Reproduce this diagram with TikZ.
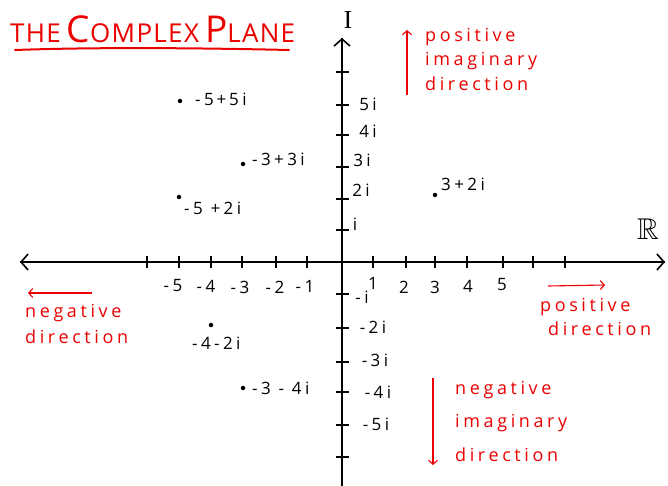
\documentclass[tikz,border=0pt]{standalone}
\usepackage{amssymb}
\usepackage{fontspec}
\setmainfont{Open Sans}
\newfontfamily\serifI{Liberation Serif}
\usetikzlibrary{arrows.meta}
\definecolor{pen}{RGB}{235,0,0}
\tikzset{
  axis/.style={line width=2pt, black},
  axtip/.style={-{Straight Barb[length=7pt,width=16pt,line width=1.6pt]}},
  tick/.style={line width=1.6pt, black},
  lbl/.style={font=\fontsize{17}{19}\selectfont\addfontfeature{LetterSpace=20}, inner sep=0pt, black},
  redtxt/.style={font=\fontsize{18}{20}\selectfont\addfontfeature{LetterSpace=20}, inner sep=0pt, text=pen, anchor=west},
  redarrow/.style={pen, line width=1.1pt, -{Straight Barb[length=4pt,width=9pt]}},
  pt/.style={circle, fill=black, inner sep=0pt, minimum size=4.5pt},
}
\begin{document}
\begin{tikzpicture}[x=1pt,y=-1pt]
\useasboundingbox (0,0) rectangle (668,486);
% title
\node[inner sep=0pt, text=pen, anchor=west] (title) at (10,29)
  {\fontsize{26}{28}\selectfont\addfontfeature{LetterSpace=5}THE\hspace{6pt}{\fontsize{37}{38}\selectfont C}OMPLEX\hspace{6pt}{\fontsize{37}{38}\selectfont P}LANE};
\coordinate (ul1) at (15,50);
\coordinate (ul2) at (289,50);
\draw[pen, line width=2pt, line cap=round] (ul1) .. controls (100,47) and (200,48) .. (ul2);
% axes
\coordinate (xl) at (20,262);
\coordinate (xr) at (665,262);
\coordinate (yt) at (342,38);
\coordinate (yb) at (342,486);
\draw[axis, axtip] (xr) -- (xl);
\draw[axis, axtip] (xl) -- (xr);
\draw[axis, axtip] (yb) -- (yt);
\draw[axis] (yt) -- (yb);
% horizontal ticks
\foreach \x in {147,179,211,242,276,307,373,406,435,467,503,533,565}
  \draw[tick] (\x,256) -- (\x,268);
% vertical ticks
\foreach \y in {72,105,135,167,199,230,294,328,362,392,425,457}
  \draw[tick] (336,\y) -- (349,\y);
% axis labels
\node[inner sep=0pt, font=\fontsize{26}{28}\selectfont\serifI] (ilab) at (348,20) {I};
\node[inner sep=0pt, font=\fontsize{30}{32}\selectfont] (rlab) at (648,229) {$\mathbb{R}$};
% real numbers
\node[lbl] (n5) at (173,286) {-5};
\node[lbl] (n4) at (206,286) {-4};
\node[lbl] (n3) at (240,287) {-3};
\node[lbl] (n2) at (275,287) {-2};
\node[lbl] (n1) at (305,286) {-1};
\node[lbl] (p1) at (373,283) {1};
\node[lbl] (p2) at (404,287) {2};
\node[lbl] (p3) at (435,287) {3};
\node[lbl] (p4) at (468,286) {4};
\node[lbl] (p5) at (502,285) {5};
% imaginary numbers
\node[lbl] (i5) at (368,104) {5i};
\node[lbl] (i4) at (368,131) {4i};
\node[lbl] (i3) at (362,160) {3i};
\node[lbl] (i2) at (361,190) {2i};
\node[lbl] (i1) at (355,224) {i};
\node[lbl] (m1) at (362,297) {-i};
\node[lbl] (m2) at (373,327) {-2i};
\node[lbl] (m3) at (375,360) {-3i};
\node[lbl] (m4) at (378,392) {-4i};
\node[lbl] (m5) at (376,424) {-5i};
% points
\node[pt] (a) at (180,101) {};
\node[lbl, anchor=west] (al) at (195,99) {-5\,+\,5i};
\node[pt] (b) at (243,164) {};
\node[lbl, anchor=west] (bl) at (252,159) {-3+3i};
\node[pt] (c) at (179,197) {};
\node[lbl, anchor=west] (cl) at (184,208) {-5 +2i};
\node[pt] (d) at (435,195) {};
\node[lbl, anchor=west] (dl) at (441,184) {3+2i};
\node[pt] (e) at (211,325) {};
\node[lbl, anchor=west] (el) at (192,343) {-4-2i};
\node[pt] (f) at (243,388) {};
\node[lbl, anchor=west] (fl) at (252,388) {-3 - 4i};
% red annotations
\coordinate (pia) at (407,95);
\coordinate (pib) at (407,30);
\draw[redarrow] (pia) -- (pib);
\node[redtxt] (pi1) at (425,37) {positive};
\node[redtxt] (pi2) at (425,61) {imaginary};
\node[redtxt] (pi3) at (425,84) {direction};
\coordinate (nia) at (433,378);
\coordinate (nib) at (433,465);
\draw[redarrow] (nia) -- (nib);
\node[redtxt] (ni1) at (455,390) {negative};
\node[redtxt] (ni2) at (455,423) {imaginary};
\node[redtxt] (ni3) at (455,455) {direction};
\coordinate (pda) at (548,286);
\coordinate (pdb) at (605,285);
\draw[redarrow] (pda) -- (pdb);
\node[redtxt] (pd1) at (540,307) {positive};
\node[redtxt] (pd2) at (548,329) {direction};
\coordinate (nda) at (92,293);
\coordinate (ndb) at (28,293);
\draw[redarrow] (nda) -- (ndb);
\node[redtxt] (nd1) at (25,313) {negative};
\node[redtxt] (nd2) at (25,337) {direction};
\end{tikzpicture}
\end{document}
